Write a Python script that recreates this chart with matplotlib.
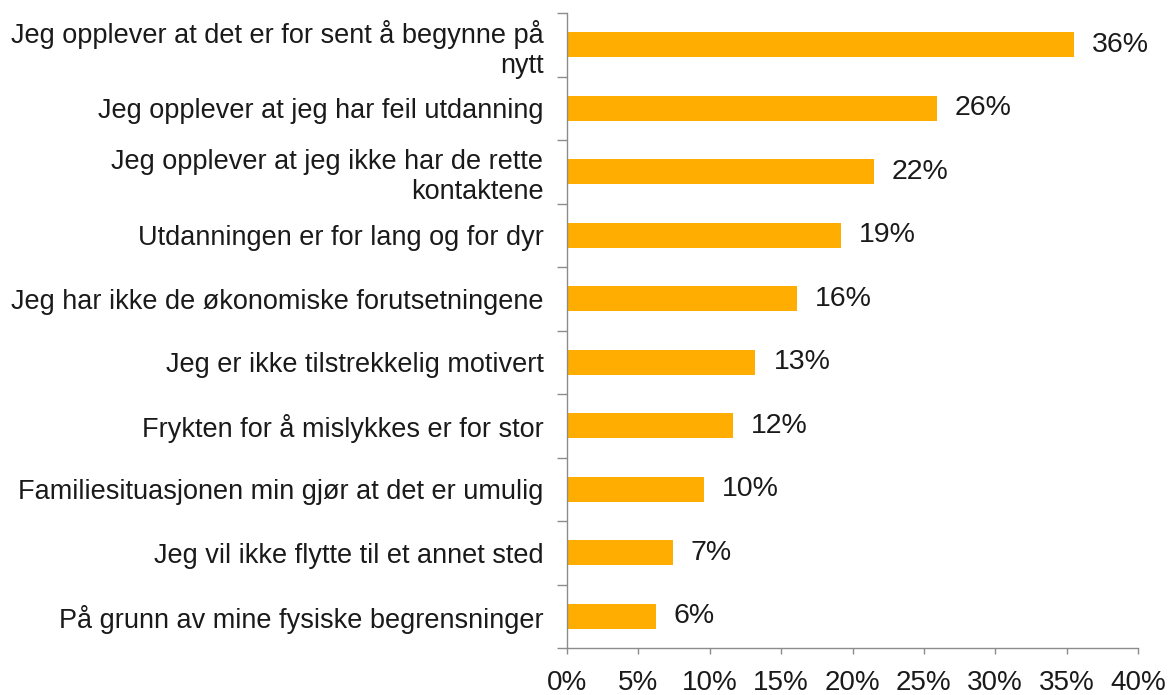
import matplotlib

matplotlib.use("Agg")

import matplotlib.pyplot as plt
import numpy as np
from matplotlib.ticker import FuncFormatter, FixedLocator

plt.rcParams["font.family"] = ["Liberation Sans", "DejaVu Sans"]

categories = [
    "Jeg opplever at det er for sent å begynne på\nnytt",
    "Jeg opplever at jeg har feil utdanning",
    "Jeg opplever at jeg ikke har de rette\nkontaktene",
    "Utdanningen er for lang og for dyr",
    "Jeg har ikke de økonomiske forutsetningene",
    "Jeg er ikke tilstrekkelig motivert",
    "Frykten for å mislykkes er for stor",
    "Familiesituasjonen min gjør at det er umulig",
    "Jeg vil ikke flytte til et annet sted",
    "På grunn av mine fysiske begrensninger",
]
values = [35.5, 25.9, 21.5, 19.2, 16.1, 13.2, 11.6, 9.6, 7.4, 6.2]
value_labels = ["36%", "26%", "22%", "19%", "16%", "13%", "12%", "10%", "7%", "6%"]
x_ticks = [0, 5, 10, 15, 20, 25, 30, 35, 40]

BAR_COLOR = "#FFAD00"
SPINE_COLOR = "#8C8C8C"
TEXT_COLOR = "#1A1A1A"

fig = plt.figure(figsize=(11.68, 6.95), dpi=100)
fig.patch.set_facecolor("white")
ax = fig.add_axes([567 / 1168, 1 - 648 / 695, (1138 - 567) / 1168, (648 - 13) / 695])

positions = np.arange(len(categories))
bars = ax.barh(positions, values, height=0.39, color=BAR_COLOR)

for bar, text in zip(bars, value_labels):
    ax.annotate(
        text,
        (bar.get_width(), bar.get_y() + bar.get_height() / 2),
        textcoords="offset points",
        xytext=(13, 0),
        ha="left",
        va="center",
        fontsize=20.5,
        color=TEXT_COLOR,
    )

ax.set_ylim(len(categories) - 0.5, -0.5)
ax.set_xlim(0, 40)

ax.set_yticks(positions)
ax.set_yticklabels(categories, fontsize=19.5, color=TEXT_COLOR, multialignment="right")
ax.tick_params(axis="y", which="major", length=0, pad=17)
ax.yaxis.set_minor_locator(FixedLocator(np.arange(-0.5, len(categories), 1.0)))
ax.tick_params(axis="y", which="minor", length=7, color=SPINE_COLOR, width=1)

ax.set_xticks(x_ticks)
ax.xaxis.set_major_formatter(FuncFormatter(lambda v, _: f"{v:.0f}%"))
ax.tick_params(axis="x", length=4, color=SPINE_COLOR, width=1, pad=12, labelsize=20, labelcolor=TEXT_COLOR)

for side in ["top", "right"]:
    ax.spines[side].set_visible(False)
for side in ["left", "bottom"]:
    ax.spines[side].set_color(SPINE_COLOR)
    ax.spines[side].set_linewidth(1)

fig.savefig("out.png", dpi=100, facecolor="white")
plt.close(fig)
